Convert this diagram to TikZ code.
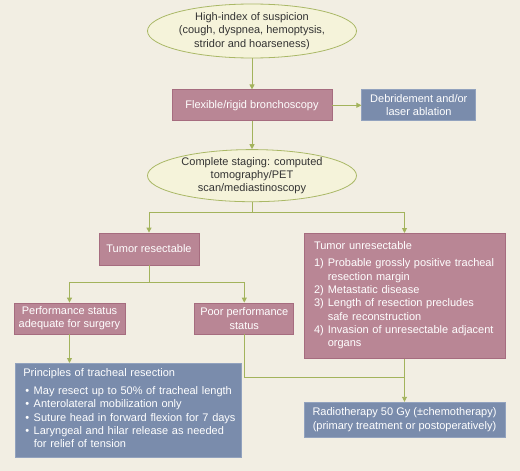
\documentclass[tikz,border=0pt]{standalone}
\usepackage{fontspec}
\setmainfont{Liberation Sans}
\usepackage{xcolor}
\usetikzlibrary{arrows.meta,positioning,shapes.geometric}
\definecolor{fond}{HTML}{F2EEE3}
\definecolor{ovfill}{HTML}{F5F3DA}
\definecolor{ovline}{HTML}{AAB866}
\definecolor{rosefill}{HTML}{B98695}
\definecolor{roseline}{HTML}{A66C7F}
\definecolor{bleufill}{HTML}{7A8CAC}
\definecolor{bleuline}{HTML}{92A2BE}
\definecolor{vert}{HTML}{A3B35C}
\definecolor{encre}{HTML}{333333}
\tikzset{
  bloc/.style={draw,align=center,inner sep=2pt,line width=0.8pt,
    font=\fontsize{11}{13.3}\selectfont},
  oval/.style={bloc,ellipse,inner sep=0pt,fill=ovfill,draw=ovline,text=encre},
  rose/.style={bloc,fill=rosefill,draw=roseline,text=white},
  bleu/.style={bloc,fill=bleufill,draw=bleuline,text=white},
  liste/.style={align=left,inner xsep=8pt,inner ysep=4pt},
  fl/.style={-{Triangle[length=5pt,width=5pt]},draw=vert,line width=0.9pt},
  ln/.style={draw=vert,line width=0.9pt},
}

\begin{document}
\begin{tikzpicture}[x=1pt,y=-1pt,node distance=30pt and 29pt]
  \fill[fond] (0,0) rectangle (520,471);
  \useasboundingbox (0,0) rectangle (520,471);
  % upper part
  \node[oval,minimum width=209pt,minimum height=54pt] (susp) at (252,31)
    {High-index of suspicion\\(cough, dyspnea, hemoptysis,\\stridor and hoarseness)};
  \node[rose,minimum width=160pt,minimum height=31pt,below=31pt of susp] (bronch)
    {Flexible/rigid bronchoscopy};
  \node[bleu,minimum width=114pt,minimum height=31pt,right=29pt of bronch] (debr)
    {Debridement and/or\\laser ablation};
  \node[oval,minimum width=209pt,minimum height=51pt,below=28pt of bronch] (stag)
    {Complete staging: computed\\tomography/PET\\scan/mediastinoscopy};
  % resectable or not
  \node[rose,minimum width=100pt,minimum height=32pt] (resect) at (149,249)
    {Tumor resectable};
  \node[rose,liste,inner xsep=10pt,text width=181pt,minimum height=125pt,anchor=north]
    (unres) at (404.5,233)
    {Tumor unresectable\\[4.5pt]
     \begin{tabular}[t]{@{}l@{\hspace{4pt}}l@{}}
       1) & Probable grossly positive tracheal\\
          & resection margin\\
       2) & Metastatic disease\\
       3) & Length of resection precludes\\
          & safe reconstruction\\
       4) & Invasion of unresectable adjacent\\
          & organs
     \end{tabular}};
  \node[rose,minimum width=111pt,minimum height=31pt] (adeq) at (69.5,318.5)
    {Performance status\\adequate for surgery};
  \node[rose,minimum width=99pt,minimum height=31pt,right=69pt of adeq] (poor)
    {Poor performance\\status};
  % treatments
  \node[bleu,liste,text width=210pt,minimum height=94pt,anchor=north west]
    (princ) at (15,363)
    {Principles of tracheal resection\\[4.5pt]
     \begin{tabular}[t]{@{\hspace{2pt}}l@{\hspace{4.5pt}}l@{}}
       \textbullet & May resect up to 50\% of tracheal length\\
       \textbullet & Anterolateral mobilization only\\
       \textbullet & Suture head in forward flexion for 7 days\\
       \textbullet & Laryngeal and hilar release as needed\\
                   & for relief of tension
     \end{tabular}};
  \node[bleu,minimum width=201pt,minimum height=35pt,below=43pt of unres] (radio)
    {Radiotherapy 50 Gy (\textpm chemotherapy)\\(primary treatment or postoperatively)};
  % connectors
  \coordinate[below=10.5pt of stag.south] (fork1);
  \coordinate[below=17pt of resect.south] (fork2);
  \coordinate (join) at ([yshift=-43pt]poor.south -| unres.south);
  \draw[fl] (susp) -- (bronch);
  \draw[fl] (bronch) -- (debr);
  \draw[fl] (bronch) -- (stag);
  \draw[ln] (stag.south) -- (fork1);
  \draw[fl] (fork1) -| (resect.north);
  \draw[fl] (fork1) -| (unres.north);
  \draw[ln] (resect.south) -- (fork2);
  \draw[fl] (fork2) -| (adeq.north);
  \draw[fl] (fork2) -| (poor.north);
  \draw[fl] (adeq) -- (adeq |- princ.north);
  \draw[ln] (poor.south) |- (join);
  \draw[fl] (unres.south) -- (radio.north);
\end{tikzpicture}
\end{document}
